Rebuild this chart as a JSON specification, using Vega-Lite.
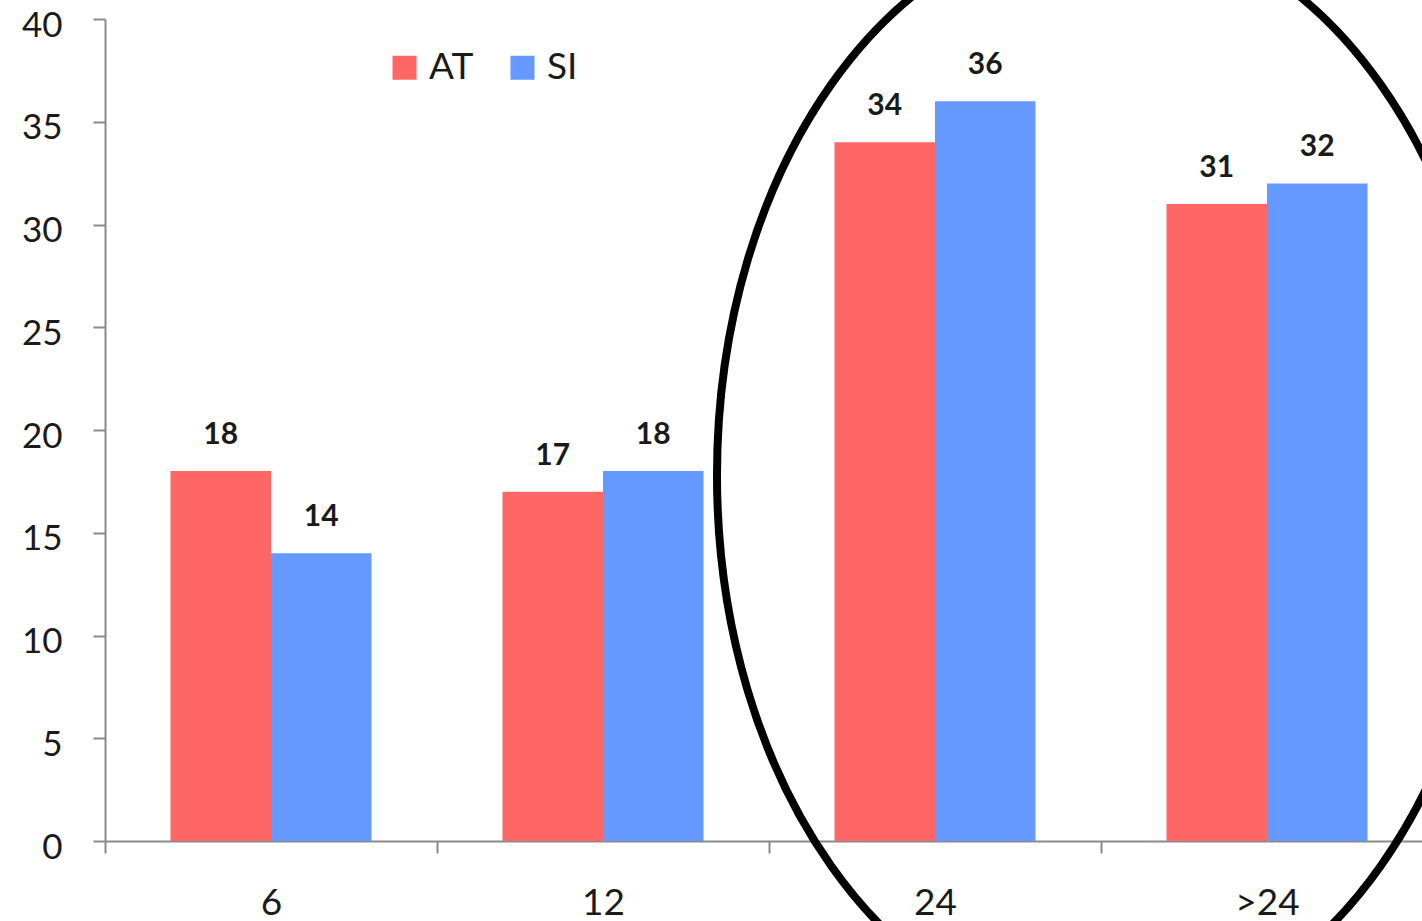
{
  "$schema": "https://vega.github.io/schema/vega-lite/v6.json",
  "autosize": {"type": "none"},
  "padding": {"left": 105, "right": -11, "top": 19, "bottom": 80},
  "width": 1328,
  "height": 822,
  "background": "white",
  "config": {
    "view": {"stroke": null},
    "font": "Lato",
    "axis": {
      "grid": false,
      "domainColor": "#8a8a8a",
      "domainWidth": 2,
      "tickColor": "#8a8a8a",
      "tickWidth": 2,
      "tickSize": 12,
      "labelColor": "#1a1a1a",
      "labelFont": "Lato",
      "title": null
    }
  },
  "datasets": {
    "bars": [
      {"group": "6", "series": "AT", "value": 18},
      {"group": "6", "series": "SI", "value": 14},
      {"group": "12", "series": "AT", "value": 17},
      {"group": "12", "series": "SI", "value": 18},
      {"group": "24", "series": "AT", "value": 34},
      {"group": "24", "series": "SI", "value": 36},
      {"group": ">24", "series": "AT", "value": 31},
      {"group": ">24", "series": "SI", "value": 32}
    ],
    "highlight": [
      {"group": ">24", "value": 17.8}
    ]
  },
  "encoding": {
    "x": {
      "field": "group",
      "type": "nominal",
      "sort": ["6", "12", "24", ">24"],
      "scale": {"paddingInner": 0, "paddingOuter": 0},
      "axis": {
        "tickBand": "extent",
        "labelFontSize": 37,
        "labelPadding": 32,
        "labelAngle": 0
      }
    }
  },
  "layer": [
    {
      "data": {"name": "bars"},
      "mark": {"type": "bar"},
      "encoding": {
        "xOffset": {
          "field": "series",
          "type": "nominal",
          "sort": ["AT", "SI"],
          "scale": {"paddingInner": 0, "paddingOuter": 0.652}
        },
        "y": {
          "field": "value",
          "type": "quantitative",
          "scale": {"domain": [0, 40], "nice": false},
          "axis": {
            "values": [0, 5, 10, 15, 20, 25, 30, 35, 40],
            "labelFontSize": 35,
            "labelPadding": 31,
            "labelOffset": 6
          }
        },
        "color": {
          "field": "series",
          "type": "nominal",
          "sort": ["AT", "SI"],
          "scale": {"domain": ["AT", "SI"], "range": ["#ff6666", "#6699ff"]},
          "legend": {
            "title": null,
            "orient": "none",
            "direction": "horizontal",
            "legendX": 281,
            "legendY": 30,
            "symbolType": "square",
            "symbolSize": 576,
            "symbolStrokeWidth": 0,
            "symbolOpacity": 1,
            "labelFontSize": 37,
            "labelFont": "Lato",
            "labelColor": "#1a1a1a",
            "labelOffset": 6,
            "columnPadding": 30
          }
        }
      }
    },
    {
      "data": {"name": "bars"},
      "mark": {
        "type": "text",
        "baseline": "alphabetic",
        "align": "center",
        "dy": -27,
        "fontSize": 30,
        "fontWeight": "bold",
        "font": "Lato",
        "color": "#1a1a1a"
      },
      "encoding": {
        "xOffset": {"field": "series", "type": "nominal", "sort": ["AT", "SI"]},
        "y": {"field": "value", "type": "quantitative"},
        "text": {"field": "value", "type": "quantitative"}
      }
    },
    {
      "data": {"name": "highlight"},
      "mark": {
        "type": "point",
        "shape": "M 0.7047 0 C 0.7047 0.5523 0.3892 1 0 1 C -0.3892 1 -0.7047 0.5523 -0.7047 0 C -0.7047 -0.5523 -0.3892 -1 0 -1 C 0.3892 -1 0.7047 -0.5523 0.7047 0 Z",
        "size": 1218816,
        "filled": false,
        "stroke": "black",
        "strokeWidth": 8,
        "opacity": 1
      },
      "encoding": {
        "x": {"field": "group", "type": "nominal", "bandPosition": 0.015},
        "y": {"field": "value", "type": "quantitative"}
      }
    }
  ]
}
